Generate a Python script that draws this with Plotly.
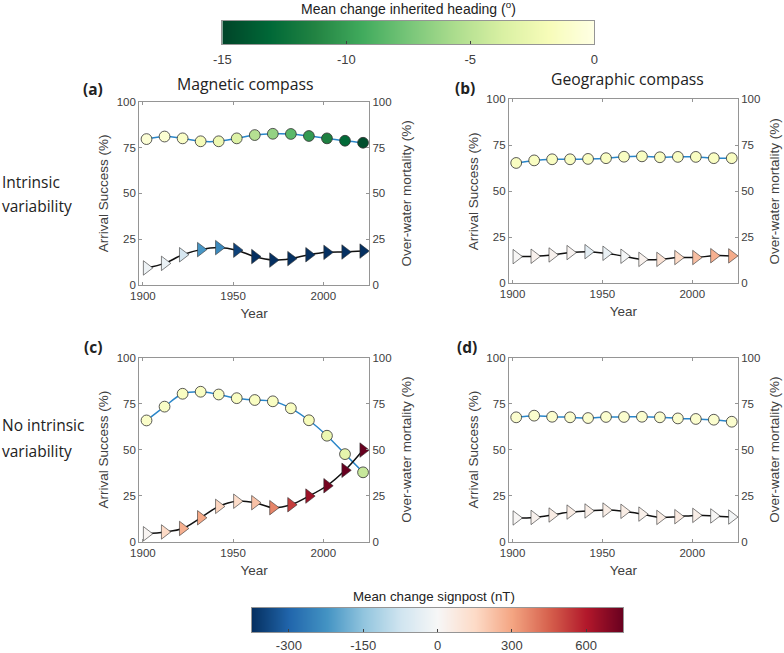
# -*- coding: utf-8 -*-
import plotly.graph_objects as go

W, H = 784, 653

years = [1902, 1912, 1922, 1932, 1942, 1952, 1962, 1972, 1982, 1992, 2002, 2012, 2022]

# arrival success (%)
success_a = [79.6, 81.0, 80.0, 78.4, 78.4, 80.0, 81.8, 82.5, 82.4, 81.3, 80.0, 78.7, 77.6]
success_b = [65.4, 66.8, 67.4, 67.4, 67.6, 68.0, 68.8, 69.0, 68.5, 68.7, 68.7, 68.0, 68.0]
success_c = [65.9, 73.4, 80.4, 81.5, 80.0, 78.0, 77.0, 76.3, 72.5, 66.0, 57.6, 47.6, 37.7]
success_d = [67.6, 68.5, 67.9, 67.6, 67.2, 67.8, 67.8, 67.9, 67.6, 67.0, 66.7, 66.3, 65.2]

# over-water mortality (%)
mortality_a = [9.3, 11.8, 16.5, 19.3, 20.4, 19.0, 15.5, 13.6, 14.4, 16.5, 17.8, 18.0, 18.5]
mortality_b = [14.5, 14.7, 15.4, 16.7, 17.2, 16.3, 14.7, 13.0, 13.0, 14.0, 14.0, 15.0, 14.9]
mortality_c = [4.3, 5.3, 7.2, 13.0, 19.2, 22.0, 21.2, 18.5, 20.1, 24.8, 30.4, 38.8, 49.8]
mortality_d = [12.9, 13.2, 14.5, 16.1, 16.7, 17.2, 16.5, 15.0, 13.2, 13.6, 14.3, 14.0, 13.4]

# mean change inherited heading (deg)
heading_a = [-0.7, -0.8, -1.3, -2.0, -2.5, -3.5, -5.3, -6.5, -8.5, -10.2, -11.5, -13.0, -14.5]
heading_b = [-1.5, -1.5, -1.5, -1.5, -1.5, -1.5, -1.5, -1.5, -1.5, -1.5, -1.5, -1.5, -1.5]
heading_c = [-1.2, -1.3, -1.5, -1.5, -1.5, -1.5, -1.5, -1.5, -1.5, -1.8, -2.5, -3.0, -4.5]
heading_d = [-1.0, -1.0, -1.0, -1.0, -1.0, -1.0, -1.0, -1.0, -1.0, -1.0, -1.0, -1.0, -1.0]

# mean change signpost (nT)
signpost_a = [-20, -25, -65, -220, -240, -350, -375, -375, -375, -375, -375, -375, -375]
signpost_b = [5, 30, 30, 20, -40, -25, -5, 30, 110, 150, 230, 270, 280]
signpost_c = [15, 150, 270, 290, 170, 140, 220, 370, 520, 640, 720, 750, 750]
signpost_d = [10, 30, 60, 60, 50, 55, 55, 40, 60, 70, 50, 5, -5]

heading_range = [-15, 0]
signpost_range = [-375, 375]
heading_ticks = [-15, -10, -5, 0]
signpost_ticks = [-300, -150, 0, 300, 600]
pct_ticks = [0, 25, 50, 75, 100]
year_ticks = [1900, 1950, 2000]

YLGN = ['#004529', '#006837', '#238443', '#41ab5d', '#78c679',
        '#addd8e', '#d9f0a3', '#f7fcb9', '#ffffe5']
RDBU = ['#053061', '#2166ac', '#4393c3', '#92c5de', '#d1e5f0', '#f7f7f7',
        '#fddbc7', '#f4a582', '#d6604d', '#b2182b', '#67001f']

FONT = 'Liberation Sans'
SIDE_FONT = 'Open Sans'
TXT = '#404040'
AXC = '#959595'
AXW = 1.3


def stops(cols):
    return [[i / (len(cols) - 1), c] for i, c in enumerate(cols)]


def squeeze(v):
    # the colour bar has the positive side at half scale
    return v if v < 0 else v / 2


# panel boxes in pixels: left, right, top, bottom
panels = [
    (139.3, 369.0, 101.7, 285.0, success_a, mortality_a, heading_a, signpost_a),
    (509.0, 737.7, 99.3, 283.3, success_b, mortality_b, heading_b, signpost_b),
    (139.3, 369.0, 357.7, 541.7, success_c, mortality_c, heading_c, signpost_c),
    (509.0, 737.7, 357.7, 541.7, success_d, mortality_d, heading_d, signpost_d),
]

fig = go.Figure()
layout = {}

for i, (l, r, t, b, suc, mort, head, sign) in enumerate(panels):
    n = i * 2 + 1
    xa, ya, ya2 = f'x{n}', f'y{n}', f'y{n + 1}'
    fig.add_trace(go.Scatter(
        x=years, y=suc, xaxis=xa, yaxis=ya, mode='lines+markers', cliponaxis=False,
        line=dict(color='#2a86c8', width=1.5, shape='spline'),
        marker=dict(symbol='circle', size=10.8, color=head, coloraxis='coloraxis',
                    line=dict(color='#303030', width=0.8)),
        showlegend=False,
    ))
    fig.add_trace(go.Scatter(
        x=years, y=mort, xaxis=xa, yaxis=ya2, mode='lines+markers', cliponaxis=False,
        line=dict(color='#111111', width=1.5, shape='spline'),
        marker=dict(symbol='triangle-right', size=12.5, color=[squeeze(v) for v in sign],
                    coloraxis='coloraxis2', line=dict(color='#303030', width=0.6)),
        showlegend=False,
    ))
    layout[f'xaxis{n}'] = dict(
        domain=[l / W, r / W], anchor=ya, range=[1898, 2025.3], automargin=False,
        tickvals=year_ticks, ticks='inside', ticklen=3, tickcolor=AXC,
        showline=True, linecolor=AXC, linewidth=AXW, mirror='ticks', showgrid=False,
        zeroline=False, title=dict(text='Year', standoff=7, font=dict(size=13.5, color=TXT)),
        tickfont=dict(size=11.5, color=TXT),
    )
    layout[f'yaxis{n}'] = dict(
        domain=[1 - b / H, 1 - t / H], anchor=xa, range=[0, 100], automargin=False,
        tickvals=pct_ticks, ticks='inside', ticklen=3, tickcolor=AXC,
        showline=True, linecolor=AXC, linewidth=AXW, showgrid=False, zeroline=False,
        title=dict(text='Arrival Success (%)', standoff=4, font=dict(size=13.5, color=TXT)),
        tickfont=dict(size=11.5, color=TXT),
    )
    layout[f'yaxis{n + 1}'] = dict(
        domain=[1 - b / H, 1 - t / H], anchor=xa, overlaying=ya, side='right', range=[0, 100],
        automargin=False,
        tickvals=pct_ticks, ticks='inside', ticklen=3, tickcolor=AXC,
        showline=True, linecolor=AXC, linewidth=AXW, showgrid=False, zeroline=False,
        title=dict(text='Over-water mortality (%)', standoff=10, font=dict(size=13.5, color=TXT)),
        tickfont=dict(size=11.5, color=TXT),
    )

# colour bars: own small axes, left, right, top, bottom in pixels
bars = [
    (222.3, 594.3, 21.0, 44.0, heading_range, 'coloraxis', heading_ticks, heading_ticks, 3),
    (251.7, 623.3, 608.0, 632.0, signpost_range, 'coloraxis2',
     [squeeze(v) for v in signpost_ticks], signpost_ticks, 1),
]
for j, (l, r, t, b, zr, cax, tv, tt, gap) in enumerate(bars):
    n = 9 + j
    fig.add_trace(go.Heatmap(
        x=zr, y=[0], z=[zr], zsmooth='best', coloraxis=cax,
        xaxis=f'x{n}', yaxis=f'y{n}', hoverinfo='skip',
    ))
    layout[f'xaxis{n}'] = dict(
        domain=[l / W, r / W], anchor=f'y{n}', range=zr, automargin=False,
        tickvals=tv, ticktext=[str(v) for v in tt], ticks='inside', ticklen=3,
        ticklabelstandoff=gap, tickcolor='#404040', showline=True, linecolor=AXC, linewidth=AXW,
        mirror=True, showgrid=False, zeroline=False, tickfont=dict(size=13, color=TXT),
    )
    layout[f'yaxis{n}'] = dict(
        domain=[1 - b / H, 1 - t / H], anchor=f'x{n}', range=[-0.5, 0.5], automargin=False,
        showticklabels=False, ticks='', showline=True, linecolor=AXC, linewidth=AXW,
        mirror=True, showgrid=False, zeroline=False,
    )


def text(px, py, s, size=15.5, family=SIDE_FONT, color='#222222', anchor='center'):
    return dict(x=px / W, y=1 - py / H, xref='paper', yref='paper', text=s, showarrow=False,
                xanchor=anchor, yanchor='middle', font=dict(size=size, family=family, color=color))


annotations = [
    text(93, 89, '<b>(a)</b>'),
    text(465, 88, '<b>(b)</b>'),
    text(92.5, 347, '<b>(c)</b>'),
    text(467, 347, '<b>(d)</b>'),
    text(245, 84, 'Magnetic compass', size=15.8),
    text(627, 79, 'Geographic compass', size=15.7),
    text(0, 182, 'Intrinsic', anchor='left'),
    text(0, 206, 'variability', anchor='left'),
    text(0, 425, 'No intrinsic', anchor='left'),
    text(0, 451, 'variability', anchor='left'),
    text(408, 8, 'Mean change inherited heading (<sup>o</sup>)', size=14, family=FONT),
    text(434, 596, 'Mean change signpost (nT)', size=13.3, family=FONT),
]

fig.update_layout(
    width=W, height=H, autosize=False,
    margin=dict(l=0, r=0, t=0, b=0),
    paper_bgcolor='white', plot_bgcolor='white',
    font=dict(family=FONT, color=TXT),
    annotations=annotations,
    coloraxis=dict(cmin=-15, cmax=0, colorscale=stops(YLGN), showscale=False),
    coloraxis2=dict(cmin=-375, cmax=375, colorscale=stops(RDBU), showscale=False),
    **layout,
)

fig.write_html("out.html", config={'displayModeBar': False},
               post_script="document.body.style.margin='0';")
